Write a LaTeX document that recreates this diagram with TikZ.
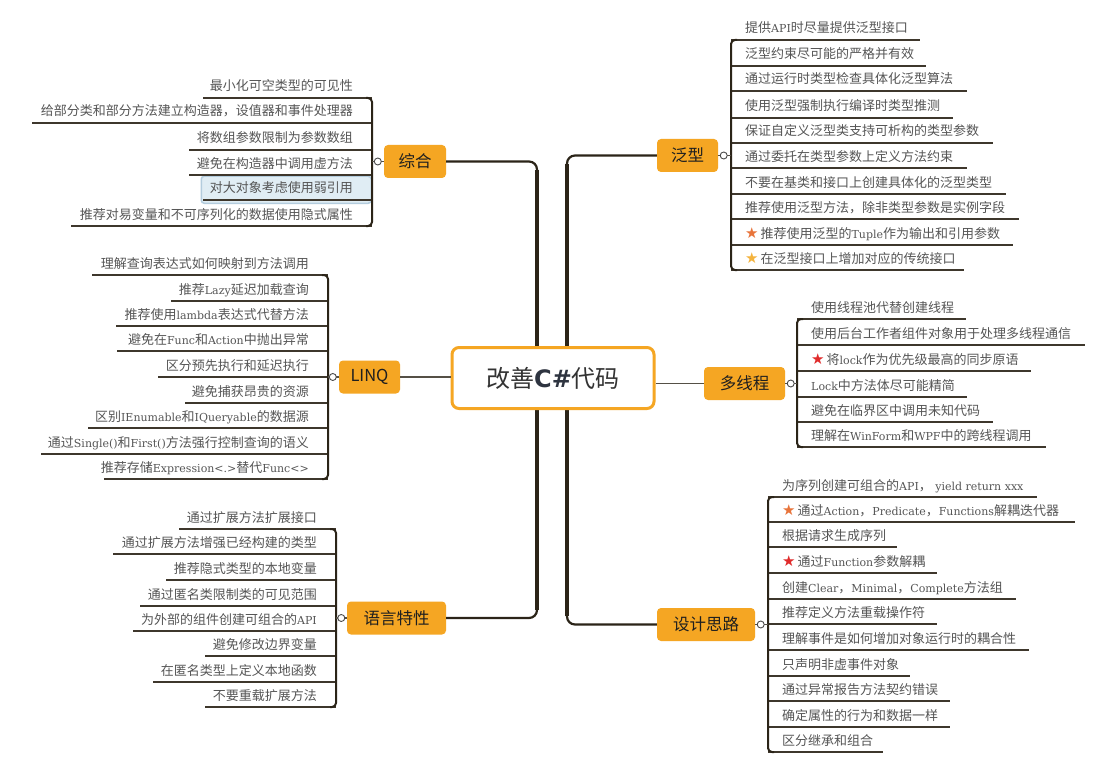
\documentclass[tikz,border=0pt]{standalone}
\usepackage{fontspec}
\setmainfont{Noto Sans CJK SC}
\newfontfamily\latf{DejaVu Serif}
\newfontfamily\symf{DejaVu Sans}
\usetikzlibrary{calc}
\definecolor{brorange}{HTML}{F5A623}
\definecolor{trunkc}{HTML}{2B2418}
\definecolor{ulc}{HTML}{3E372C}
\definecolor{leafgray}{HTML}{555555}
\definecolor{hlfill}{HTML}{E0EDF4}
\definecolor{hldraw}{HTML}{B3CCDD}
\definecolor{staror}{HTML}{E8743B}
\definecolor{staryl}{HTML}{F4B33D}
\definecolor{starrd}{HTML}{E02B2B}
\newcommand\enw[1]{{\latf\fontsize{11}{14}\selectfont #1}}
\newcommand\starc[1]{\raisebox{-0.5pt}{\symf\fontsize{15}{15}\selectfont\textcolor{#1}{★}}\hspace{2pt}}
\tikzset{
  leaf/.style={inner sep=0pt, font=\fontsize{13}{15}\selectfont, text=leafgray},
  uline/.style={draw=ulc, line width=1.1pt},
  bline/.style={draw=trunkc, line width=2pt, rounded corners=4pt},
  branch/.style={fill=brorange, rounded corners=4pt, minimum height=33pt, inner sep=0pt,
    font=\fontsize{16.5}{18}\selectfont, text=black!88},
  knob/.style={circle, draw=black!70, fill=white, line width=0.9pt, minimum size=7pt, inner sep=0pt},
  conn/.style={draw=trunkc!80, line width=1.2pt},
  trunk/.style={draw=trunkc, line width=2.2pt, rounded corners=8pt},
  trunkv/.style={draw=trunkc, line width=4pt},
}
% right-side leaf: name, bracket x, underline y, underline end x, text
\newcommand\leafR[5]{%
  \coordinate (#1-a) at (#2,#3);
  \coordinate (#1-b) at (#4,#3);
  \draw[uline] (#1-a) -- (#1-b);
  \node[leaf, anchor=base west] (#1) at ({#2+14},{#3-7}) {#5};
}
% left-side leaf: name, bracket x, underline y, underline start x, text
\newcommand\leafL[5]{%
  \coordinate (#1-a) at (#4,#3);
  \coordinate (#1-b) at (#2,#3);
  \draw[uline] (#1-a) -- (#1-b);
  \node[leaf, anchor=base east] (#1) at ({#2-19},{#3-7}) {#5};
}
\begin{document}
\begin{tikzpicture}[x=1pt, y=-1pt]
\useasboundingbox (0,0) rectangle (1117,765);
\fill[white] (0,0) rectangle (1117,765);

% ---------- branch nodes ----------
\node[branch, minimum width=62pt] (zonghe) at (415,161.5) {综合};
\node[branch, minimum width=61pt] (linq) at (369.5,377) {LINQ};
\node[branch, minimum width=99pt] (yuyan) at (396.5,618) {语言特性};
\node[branch, minimum width=61pt] (fanxing) at (687.5,155.5) {泛型};
\node[branch, minimum width=81pt] (duo) at (744.5,383.5) {多线程};
\node[branch, minimum width=98pt] (sheji) at (706,624.5) {设计思路};

% ---------- trunks ----------
\coordinate (lmid) at (537,380);
\coordinate (rmid) at (567,380);
\coordinate (ltop) at (537,170);
\coordinate (lbot) at (537,610);
\coordinate (rtop) at (567,164);
\coordinate (rbot) at (567,616);
\draw[trunk] (zonghe.east) -| (lmid) |- (yuyan.east);
\draw[trunk] (fanxing.west) -| (rmid) |- (sheji.west);
\draw[trunkv] (ltop) -- (lbot);
\draw[trunkv] (rtop) -- (rbot);

% ---------- root ----------
\node[draw=brorange, line width=3pt, fill=white, rounded corners=7pt,
      minimum width=202pt, minimum height=61pt, inner sep=0pt,
      font=\fontsize{24}{28}\selectfont, text=black!80] (root) at (553,378)
      {改善{\symf\bfseries\color[HTML]{2E3440}C\#}代码};
\draw[conn] (root.west |- linq.east) -- (linq.east);
\draw[conn] (root.east |- duo.west) -- (duo.west);

% ---------- 综合 ----------
\node[draw=hldraw, fill=hlfill, line width=1.5pt, rounded corners=3pt, minimum width=170pt,
      minimum height=27pt, anchor=north west, inner sep=0pt] (hl) at (200.5,175.5) {};
\leafL{z1}{372}{98}{203}{最小化可空类型的可见性}
\leafL{z2}{372}{123}{32}{给部分类和部分方法建立构造器，设值器和事件处理器}
\leafL{z3}{372}{150}{189}{将数组参数限制为参数数组}
\leafL{z4}{372}{175}{189}{避免在构造器中调用虚方法}
\leafL{z5}{372}{200}{203}{对大对象考虑使用弱引用}
\leafL{z6}{372}{226}{71}{推荐对易变量和不可序列化的数据使用隐式属性}
\draw[bline] ($(z1-b)+(-6,0)$) -- (z1-b) -- (z6-b) -- ($(z6-b)+(-6,0)$);
\draw[conn] (zonghe.west) -- (zonghe.west -| z1-b);
\node[knob] (zk) at ($(zonghe.west)+(-6,0)$) {};

% ---------- LINQ ----------
\leafL{l1}{328}{275}{92}{理解查询表达式如何映射到方法调用}
\leafL{l2}{328}{301}{171}{推荐\enw{Lazy}延迟加载查询}
\leafL{l3}{328}{326}{116}{推荐使用\enw{lambda}表达式代替方法}
\leafL{l4}{328}{351}{117}{避免在\enw{Func}和\enw{Action}中抛出异常}
\leafL{l5}{328}{377}{158}{区分预先执行和延迟执行}
\leafL{l6}{328}{403}{185}{避免捕获昂贵的资源}
\leafL{l7}{328}{428}{88}{区别\enw{IEnumable}和\enw{IQueryable}的数据源}
\leafL{l8}{328}{454}{41}{通过\enw{Single()}和\enw{First()}方法强行控制查询的语义}
\leafL{l9}{328}{479}{104}{推荐存储\enw{Expression<.>}替代\enw{Func<>}}
\draw[bline] ($(l1-b)+(-6,0)$) -- (l1-b) -- (l9-b) -- ($(l9-b)+(-6,0)$);
\draw[conn] (linq.west) -- (linq.west -| l1-b);
\node[knob] (lk) at ($(linq.west)+(-6,0)$) {};

% ---------- 语言特性 ----------
\leafL{y1}{336}{529}{179}{通过扩展方法扩展接口}
\leafL{y2}{336}{554}{113}{通过扩展方法增强已经构建的类型}
\leafL{y3}{336}{580}{166}{推荐隐式类型的本地变量}
\leafL{y4}{336}{606}{140}{通过匿名类限制类的可见范围}
\leafL{y5}{336}{631}{133}{为外部的组件创建可组合的\enw{API}}
\leafL{y6}{336}{656}{205}{避免修改边界变量}
\leafL{y7}{336}{682}{153}{在匿名类型上定义本地函数}
\leafL{y8}{336}{707}{205}{不要重载扩展方法}
\draw[bline] ($(y1-b)+(-6,0)$) -- (y1-b) -- (y8-b) -- ($(y8-b)+(-6,0)$);
\draw[conn] (yuyan.west) -- (yuyan.west -| y1-b);
\node[knob] (yk) at ($(yuyan.west)+(-5.5,0)$) {};

% ---------- 泛型 ----------
\leafR{g1}{731}{40}{920}{提供\enw{API}时尽量提供泛型接口}
\leafR{g2}{731}{66}{926}{泛型约束尽可能的严格并有效}
\leafR{g3}{731}{91}{967}{通过运行时类型检查具体化泛型算法}
\leafR{g4}{731}{118}{953}{使用泛型强制执行编译时类型推测}
\leafR{g5}{731}{143}{993}{保证自定义泛型类支持可析构的类型参数}
\leafR{g6}{731}{168}{967}{通过委托在类型参数上定义方法约束}
\leafR{g7}{731}{194}{1006}{不要在基类和接口上创建具体化的泛型类型}
\leafR{g8}{731}{219}{1019}{推荐使用泛型方法，除非类型参数是实例字段}
\leafR{g9}{731}{245}{1013}{\starc{staror}推荐使用泛型的\enw{Tuple}作为输出和引用参数}
\leafR{g10}{731}{270}{964}{\starc{staryl}在泛型接口上增加对应的传统接口}
\draw[bline] ($(g1-a)+(6,0)$) -- (g1-a) -- (g10-a) -- ($(g10-a)+(6,0)$);
\draw[conn] (fanxing.east) -- (fanxing.east -| g1-a);
\node[knob] (gk) at ($(fanxing.east)+(5.5,0)$) {};

% ---------- 多线程 ----------
\leafR{d1}{797}{319}{966}{使用线程池代替创建线程}
\leafR{d2}{797}{345}{1085}{使用后台工作者组件对象用于处理多线程通信}
\leafR{d3}{797}{371}{1031}{\starc{starrd}将\enw{lock}作为优先级最高的同步原语}
\leafR{d4}{797}{397}{967}{\enw{Lock}中方法体尽可能精简}
\leafR{d5}{797}{422}{993}{避免在临界区中调用未知代码}
\leafR{d6}{797}{447}{1046}{理解在\enw{WinForm}和\enw{WPF}中的跨线程调用}
\draw[bline] ($(d1-a)+(6,0)$) -- (d1-a) -- (d6-a) -- ($(d6-a)+(6,0)$);
\draw[conn] (duo.east) -- (duo.east -| d1-a);
\node[knob] (dk) at ($(duo.east)+(5.5,0)$) {};

% ---------- 设计思路 ----------
\leafR{s1}{768}{497}{1037}{为序列创建可组合的\enw{API}，\enw{ yield return xxx}}
\leafR{s2}{768}{522}{1075}{\starc{staror}通过\enw{Action}，\enw{Predicate}，\enw{Functions}解耦迭代器}
\leafR{s3}{768}{547}{897}{根据请求生成序列}
\leafR{s4}{768}{573}{937}{\starc{starrd}通过\enw{Function}参数解耦}
\leafR{s5}{768}{599}{1016}{创建\enw{Clear}，\enw{Minimal}，\enw{Complete}方法组}
\leafR{s6}{768}{624}{937}{推荐定义方法重载操作符}
\leafR{s7}{768}{650}{1029}{理解事件是如何增加对象运行时的耦合性}
\leafR{s8}{768}{676}{910}{只声明非虚事件对象}
\leafR{s9}{768}{701}{950}{通过异常报告方法契约错误}
\leafR{s10}{768}{727}{950}{确定属性的行为和数据一样}
\leafR{s11}{768}{752}{883}{区分继承和组合}
\draw[bline] ($(s1-a)+(6,0)$) -- (s1-a) -- (s11-a) -- ($(s11-a)+(6,0)$);
\draw[conn] (sheji.east) -- (sheji.east -| s1-a);
\node[knob] (sk) at ($(sheji.east)+(5.5,0)$) {};
\end{tikzpicture}
\end{document}
